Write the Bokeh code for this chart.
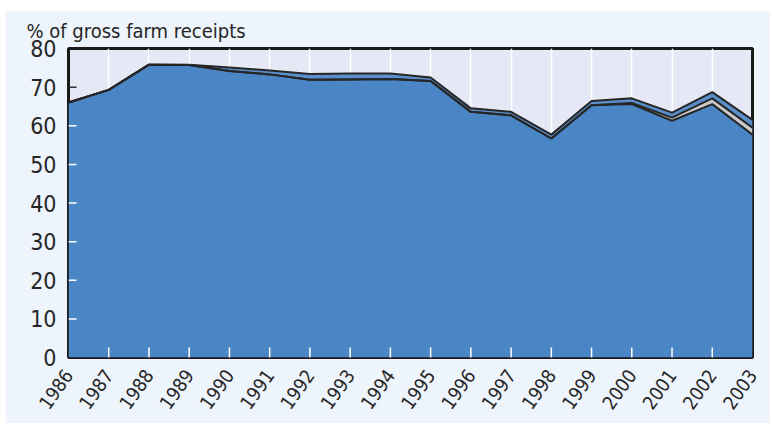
from bokeh.plotting import figure
from bokeh.models import FixedTicker, Range1d, Title, ColumnDataSource
from bokeh.embed import file_html
from bokeh.resources import INLINE

years = list(range(1986, 2004))
main_share = [66.0, 69.3, 75.8, 75.7, 74.2, 73.3, 71.9, 72.0, 72.1, 71.6,
              63.6, 62.7, 56.7, 65.3, 65.6, 61.3, 65.6, 57.7]
gray_share = [0, 0, 0, 0, 0, 0, 0, 0, 0, 0,
              0, 0, 0, 0, 0.3, 0.8, 1.5, 1.8]
top_share = [0, 0, 0, 0.1, 0.9, 1.0, 1.5, 1.5, 1.4, 0.9,
             0.9, 0.9, 1.0, 1.1, 1.2, 1.3, 1.6, 2.0]
y_ticks = [0, 10, 20, 30, 40, 50, 60, 70, 80]
x_tick_marks = years[1:-1]
y_tick_marks = y_ticks[1:-1]
title_text = "% of gross farm receipts"

FONT = "DejaVu Sans Condensed, Roboto, sans-serif"
TEXT = "#262626"

src = ColumnDataSource(dict(year=years, main=main_share, gray=gray_share, top=top_share))

p = figure(width=765, height=413, output_backend="svg", toolbar_location=None,
           x_range=Range1d(1986, 2003), y_range=Range1d(0, 80),
           min_border_left=63, min_border_right=18, min_border_top=38, min_border_bottom=66)
p.margin = (10, 0, 0, 5)
p.background_fill_color = "#E6E9F5"
p.border_fill_color = "#EEF4FC"
p.outline_line_color = "#1a1a1a"
p.outline_line_width = 3

p.add_layout(Title(text=title_text, align="left", offset=-42, vertical_align="top",
                   text_font=FONT, text_font_size="20px", text_font_style="normal",
                   text_color=TEXT, standoff=8), "above")

p.varea_stack(stackers=["main", "gray", "top"], x="year", source=src,
              color=["#4A86C5", "#C9CBCC", "#5A8FCB"])
cum1 = [a for a in main_share]
cum2 = [a + b for a, b in zip(main_share, gray_share)]
cum3 = [a + b + c for a, b, c in zip(main_share, gray_share, top_share)]
for c in (cum1, cum2, cum3):
    p.line(years, c, line_color="#262626", line_width=2)

# white tick marks drawn inside the frame
p.segment(x0=x_tick_marks, y0=[0] * len(x_tick_marks), x1=x_tick_marks,
          y1=[2.6] * len(x_tick_marks), line_color="white", line_width=1.5)
p.segment(x0=[1986] * len(y_tick_marks), y0=y_tick_marks,
          x1=[1986.2] * len(y_tick_marks), y1=y_tick_marks,
          line_color=["white"] * 6 + ["#333333"], line_width=1.5)

p.xaxis.ticker = FixedTicker(ticks=years)
p.yaxis.ticker = FixedTicker(ticks=y_ticks)
for ax in (p.xaxis[0], p.yaxis[0]):
    ax.axis_line_color = None
    ax.major_tick_line_color = None
    ax.minor_tick_line_color = None
    ax.major_label_text_font = FONT
    ax.major_label_text_color = TEXT
p.yaxis.major_label_text_font_size = "23px"
p.yaxis.major_label_standoff = 6
p.xaxis.major_label_text_font_size = "19px"
p.xaxis.major_label_orientation = 0.95
p.xaxis.major_label_standoff = 8

p.xgrid.ticker = FixedTicker(ticks=years)
p.xgrid.grid_line_color = "white"
p.xgrid.grid_line_width = 1.5
p.ygrid.grid_line_color = None

open("out.html", "w").write(file_html(p, INLINE))
